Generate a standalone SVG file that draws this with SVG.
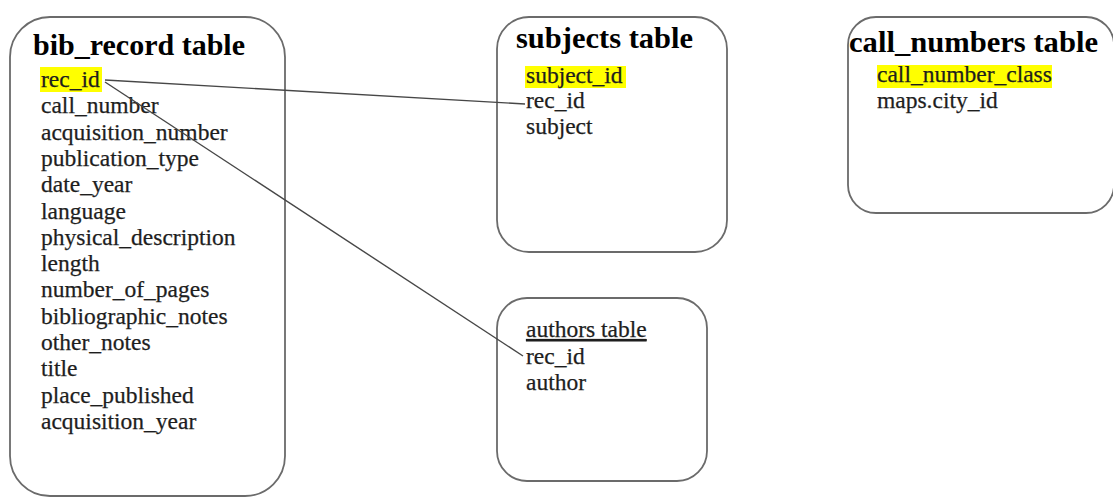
<svg xmlns="http://www.w3.org/2000/svg" width="1113" height="498" viewBox="0 0 1113 498">
<style>
.box{fill:#fff;stroke:#6b6b6b;stroke-width:1.8}
.title{font-family:"Liberation Serif","Times New Roman",serif;font-weight:bold;font-size:29px;fill:#000}
.f{font-family:"Liberation Serif","Times New Roman",serif;font-size:23.5px;fill:#1e1e1e;stroke:#1e1e1e;stroke-width:0.25}
.hl{fill:#ffff00}
.conn{stroke:#474747;stroke-width:1.4;fill:none}
</style>
<rect width="1113" height="498" fill="#fff"/>
<g id="bib_record">
<rect class="box" x="10" y="17" width="275" height="479" rx="40" ry="40"/>
<text class="title" x="33" y="55" textLength="212" lengthAdjust="spacingAndGlyphs">bib_record table</text>
<rect class="hl" x="40" y="67" width="62" height="25"/>
<text class="f" x="41" y="87">rec_id</text>
<text class="f" x="41" y="113.3">call_number</text>
<text class="f" x="41" y="139.6">acquisition_number</text>
<text class="f" x="41" y="165.9">publication_type</text>
<text class="f" x="41" y="192.2">date_year</text>
<text class="f" x="41" y="218.5">language</text>
<text class="f" x="41" y="244.8">physical_description</text>
<text class="f" x="41" y="271.1">length</text>
<text class="f" x="41" y="297.4">number_of_pages</text>
<text class="f" x="41" y="323.7">bibliographic_notes</text>
<text class="f" x="41" y="350">other_notes</text>
<text class="f" x="41" y="376.3">title</text>
<text class="f" x="41" y="402.6">place_published</text>
<text class="f" x="41" y="428.9">acquisition_year</text>
</g>
<g id="subjects">
<rect class="box" x="497" y="17" width="230" height="235" rx="32" ry="32"/>
<text class="title" x="516" y="48" textLength="177" lengthAdjust="spacingAndGlyphs">subjects table</text>
<rect class="hl" x="525" y="66" width="101" height="22"/>
<text class="f" x="526" y="83">subject_id</text>
<text class="f" x="526" y="108">rec_id</text>
<text class="f" x="526" y="134">subject</text>
</g>
<g id="call_numbers">
<rect class="box" x="848" y="17" width="266" height="196" rx="28" ry="28"/>
<text class="title" x="849" y="52" textLength="249" lengthAdjust="spacingAndGlyphs">call_numbers table</text>
<rect class="hl" x="877" y="65" width="175" height="23"/>
<text class="f" x="877" y="82">call_number_class</text>
<text class="f" x="877" y="108">maps.city_id</text>
</g>
<g id="authors">
<rect class="box" x="497" y="298" width="210" height="183" rx="30" ry="30"/>
<text class="f" x="526" y="337" text-decoration="underline">authors table</text>
<text class="f" x="526" y="364">rec_id</text>
<text class="f" x="526" y="390">author</text>
</g>
<g id="connectors">
<line class="conn" x1="105" y1="80" x2="525" y2="104"/>
<line class="conn" x1="105" y1="82" x2="523" y2="356"/>
</g>
</svg>
